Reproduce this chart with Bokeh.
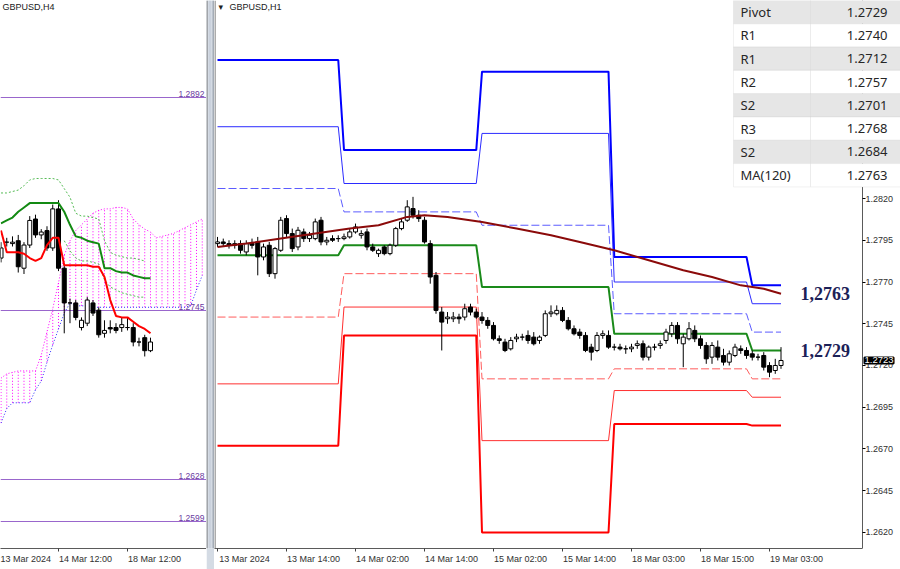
from bokeh.plotting import figure
from bokeh.models import FixedTicker, Label, BoxAnnotation, NumeralTickFormatter
from bokeh.layouts import row
from bokeh.embed import file_html
from bokeh.resources import INLINE

# ================= H1 (right panel) data =================
h1_tick_bars = [0, 12, 24, 36, 48, 60, 72, 84, 96]
h1_tick_labels = ["13 Mar 2024", "13 Mar 14:00", "14 Mar 02:00", "14 Mar 14:00",
                  "15 Mar 02:00", "15 Mar 14:00", "18 Mar 03:00", "18 Mar 15:00",
                  "19 Mar 03:00"]

h1_open = [1.2793,1.2794,1.2793,1.2792,1.2793,1.2788,1.2793,1.2794,1.2785,1.2792,
           1.2775,1.2789,1.2808,1.2799,1.2791,1.2800,1.2796,1.2796,1.2807,1.2794,
           1.2796,1.2796,1.2796,1.2797,1.2800,1.2798,1.2800,1.2791,1.2787,1.2791,
           1.2787,1.2792,1.2802,1.2807,1.2814,1.2810,1.2807,1.2793,1.2774,1.2752,
           1.2748,1.2748,1.2749,1.2749,1.2755,1.2752,1.2749,1.2747,1.2744,1.2736,
           1.2734,1.2730,1.2736,1.2737,1.2738,1.2737,1.2735,1.2738,1.2751,1.2751,
           1.2753,1.2747,1.2742,1.2740,1.2738,1.2731,1.2729,1.2738,1.2738,1.2731,
           1.2731,1.2730,1.2730,1.2732,1.2733,1.2725,1.2731,1.2732,1.2735,1.2739,
           1.2744,1.2733,1.2736,1.2741,1.2736,1.2732,1.2725,1.2731,1.2726,1.2722,
           1.2726,1.2730,1.2729,1.2727,1.2725,1.2726,1.2720,1.2717,1.2720]
h1_high = [1.2797,1.2796,1.2795,1.2795,1.2795,1.2795,1.2796,1.2797,1.2793,1.2794,
           1.2791,1.2809,1.2810,1.2802,1.2803,1.2802,1.2800,1.2808,1.2809,1.2797,
           1.2798,1.2798,1.2799,1.2802,1.2805,1.2801,1.2802,1.2793,1.2790,1.2792,
           1.2793,1.2803,1.2808,1.2819,1.2821,1.2813,1.2809,1.2795,1.2776,1.2755,
           1.2752,1.2752,1.2751,1.2757,1.2757,1.2754,1.2752,1.2749,1.2746,1.2738,
           1.2736,1.2737,1.2739,1.2739,1.2741,1.2740,1.2738,1.2753,1.2756,1.2756,
           1.2755,1.2749,1.2744,1.2742,1.2740,1.2733,1.2740,1.2741,1.2741,1.2733,
           1.2733,1.2732,1.2733,1.2735,1.2735,1.2732,1.2733,1.2735,1.2742,1.2746,
           1.2746,1.2739,1.2746,1.2744,1.2738,1.2734,1.2734,1.2735,1.2730,1.2729,
           1.2733,1.2732,1.2731,1.2729,1.2727,1.2728,1.2722,1.2724,1.2731]
h1_low = [1.2791,1.2791,1.2790,1.2790,1.2787,1.2786,1.2790,1.2774,1.2783,1.2773,
          1.2772,1.2788,1.2797,1.2788,1.2789,1.2794,1.2794,1.2795,1.2792,1.2792,
          1.2794,1.2794,1.2795,1.2796,1.2799,1.2796,1.2789,1.2788,1.2785,1.2786,
          1.2786,1.2791,1.2801,1.2806,1.2808,1.2806,1.2793,1.2769,1.2751,1.2729,
          1.2745,1.2746,1.2745,1.2747,1.2750,1.2748,1.2745,1.2742,1.2735,1.2733,
          1.2728,1.2729,1.2734,1.2735,1.2733,1.2732,1.2733,1.2737,1.2749,1.2750,
          1.2746,1.2741,1.2738,1.2736,1.2728,1.2723,1.2728,1.2736,1.2730,1.2729,
          1.2729,1.2727,1.2728,1.2730,1.2723,1.2723,1.2729,1.2730,1.2733,1.2737,
          1.2733,1.2719,1.2735,1.2734,1.2730,1.2721,1.2721,1.2723,1.2720,1.2720,
          1.2725,1.2727,1.2724,1.2723,1.2723,1.2717,1.2713,1.2715,1.2718]
h1_close = [1.2794,1.2793,1.2792,1.2793,1.2789,1.2793,1.2792,1.2785,1.2791,1.2775,
            1.2790,1.2807,1.2799,1.2790,1.2801,1.2796,1.2798,1.2806,1.2794,1.2795,
            1.2795,1.2796,1.2797,1.2800,1.2803,1.2799,1.2791,1.2789,1.2789,1.2787,
            1.2792,1.2802,1.2806,1.2815,1.2810,1.2808,1.2794,1.2773,1.2753,1.2746,
            1.2749,1.2749,1.2748,1.2754,1.2752,1.2749,1.2747,1.2744,1.2736,1.2735,
            1.2729,1.2735,1.2737,1.2737,1.2735,1.2733,1.2737,1.2751,1.2752,1.2753,
            1.2747,1.2742,1.2739,1.2738,1.2729,1.2728,1.2738,1.2739,1.2731,1.2731,
            1.2730,1.2730,1.2731,1.2733,1.2725,1.2731,1.2731,1.2733,1.2740,1.2744,
            1.2736,1.2737,1.2742,1.2736,1.2732,1.2724,1.2732,1.2725,1.2722,1.2727,
            1.2731,1.2729,1.2726,1.2725,1.2725,1.2719,1.2716,1.2720,1.2723]

# daily classic pivot levels (13, 14, 15, 18, 19 Mar)
day_start = [0, 22, 46, 69, 93]
last_bar = 98
piv_R3 = [1.2903, 1.2849, 1.2896, 1.2785, 1.2768]
piv_R2 = [1.2863, 1.2829, 1.2859, 1.2770, 1.2757]
piv_R1 = [1.2826, 1.2812, 1.2804, 1.2751, 1.2740]
piv_P  = [1.2786, 1.2792, 1.2767, 1.2739, 1.2729]
piv_S1 = [1.2749, 1.2775, 1.2712, 1.2718, 1.2712]
piv_S2 = [1.2709, 1.2755, 1.2675, 1.2705, 1.2701]
piv_S3 = [1.2672, 1.2738, 1.2620, 1.2685, 1.2684]

ma_bar = [0, 5, 11, 17, 23, 28, 33, 36, 40, 46, 52, 58, 63, 69, 75, 81, 86, 91, 95, 98]
ma_val = [1.2791, 1.2793, 1.2796, 1.2799, 1.2802, 1.2804, 1.2809, 1.2810, 1.2809, 1.2806,
          1.2802, 1.2798, 1.2794, 1.2789, 1.2783, 1.2777, 1.2773, 1.2768, 1.2766, 1.2763]

price_ticks = [1.2620, 1.2645, 1.2670, 1.2695, 1.2720, 1.2745, 1.2770, 1.2795, 1.2820]
table_names = ["Pivot", "R1", "R1", "R2", "S2", "R3", "S2", "MA(120)"]
table_values = ["1.2729", "1.2740", "1.2712", "1.2757", "1.2701", "1.2768", "1.2684", "1.2763"]
key_levels = [1.2763, 1.2729]
current_price = 1.2723

# ================= H4 (left panel) data =================
h4_tick_bars = [-2, 10, 22]
h4_tick_labels = ["13 Mar 2024", "14 Mar 12:00", "18 Mar 12:00"]
h4_open = [1.2781,1.2792,1.2791,1.2793,1.2774,1.2790,1.2808,1.2797,1.2800,1.2788,
           1.2815,1.2774,1.2750,1.2750,1.2733,1.2736,1.2750,1.2745,1.2729,1.2733,
           1.2733,1.2733,1.2733,1.2733,1.2723,1.2726,1.2717]
h4_high = [1.2792,1.2795,1.2796,1.2797,1.2792,1.2810,1.2811,1.2801,1.2803,1.2818,
           1.2821,1.2777,1.2753,1.2752,1.2740,1.2754,1.2752,1.2747,1.2738,1.2738,
           1.2736,1.2740,1.2740,1.2736,1.2726,1.2728,1.2726]
h4_low = [1.2778,1.2789,1.2789,1.2771,1.2770,1.2788,1.2795,1.2794,1.2786,1.2786,
          1.2772,1.2729,1.2736,1.2738,1.2731,1.2734,1.2741,1.2726,1.2726,1.2729,
          1.2729,1.2730,1.2731,1.2720,1.2720,1.2713,1.2716]
h4_close = [1.2788,1.2792,1.2792,1.2775,1.2790,1.2807,1.2797,1.2799,1.2788,1.2815,
            1.2774,1.2750,1.2750,1.2740,1.2738,1.2752,1.2743,1.2728,1.2731,1.2732,
            1.2731,1.2735,1.2733,1.2723,1.2723,1.2717,1.2723]
h4_tenkan = [1.2800,1.2785,1.2785,1.2785,1.2784,1.2781,1.2779,1.2781,1.2790,1.2795,
             1.2795,1.2776,1.2776,1.2776,1.2776,1.2776,1.2775,1.2775,1.2768,1.2752,
             1.2741,1.2740,1.2740,1.2737,1.2734,1.2732,1.2729]
h4_kijun = [1.2805,1.2807,1.2809,1.2813,1.2816,1.2819,1.2819,1.2819,1.2819,1.2819,
            1.2819,1.2813,1.2804,1.2796,1.2795,1.2793,1.2792,1.2791,1.2774,1.2774,
            1.2772,1.2771,1.2771,1.2769,1.2768,1.2767,1.2767]
h4_dot1 = [1.2826,1.2826,1.2827,1.2828,1.2831,1.2835,1.2836,1.2836,1.2836,1.2836,
           1.2835,1.2829,1.2823,1.2812,1.2810,1.2810,1.2809,1.2808,1.2793,1.2785,
           1.2783,1.2782,1.2781,1.2781,1.2780,1.2779]
h4_dot2_start = 11
h4_dot2 = [1.2793,1.2786,1.2781,1.2779,1.2779,1.2778,1.2777,1.2766,1.2761,1.2759,
           1.2757,1.2756,1.2755,1.2754,1.2754]
h4_span_top = [1.2698,1.2701,1.2702,1.2703,1.2703,1.2703,1.2703,1.2714,1.2730,1.2746,
               1.2764,1.2783,1.2793,1.2800,1.2804,1.2808,1.2812,1.2814,1.2815,1.2815,
               1.2816,1.2816,1.2815,1.2808,1.2804,1.2801,1.2799,1.2795,1.2796,1.2797,
               1.2798,1.2800,1.2802,1.2804,1.2806,1.2808]
h4_span_bot = [1.2667,1.2677,1.2681,1.2681,1.2681,1.2681,1.2690,1.2696,1.2709,1.2721,
               1.2732,1.2743,1.2750,1.2748,1.2748,1.2748,1.2747,1.2747,1.2747,1.2747,
               1.2747,1.2747,1.2747,1.2747,1.2747,1.2747,1.2747,1.2747,1.2747,1.2747,
               1.2747,1.2747,1.2747,1.2748,1.2759,1.2769]
h4_levels = [1.2892, 1.2745, 1.2628, 1.2599]

# ================= styling =================
AXIS_FONT = "Liberation Sans"
TXT = "#303030"
H = 569
BOTTOM = 21
LABEL_SHIFT = 4.7   # bars: MT4 time labels start at their tick
PRICE_AXIS_AT = 112.17  # bar position of the price scale border


def draw_candles(fig, xs, o, h, l, c, width):
    top = [max(a, b) for a, b in zip(o, c)]
    bot = [min(a, b) for a, b in zip(o, c)]
    col = ["white" if cc >= oo else "black" for oo, cc in zip(o, c)]
    fig.segment(x0=xs, y0=l, x1=xs, y1=h, line_color="black", line_width=1)
    fig.vbar(x=xs, width=width, top=top, bottom=bot, fill_color=col,
             line_color="black", line_width=1)


def style_xaxis(fig, bars, labels):
    pos = [round(b + LABEL_SHIFT, 2) for b in bars]
    fig.xaxis.ticker = FixedTicker(ticks=pos, minor_ticks=bars)
    fig.xaxis.major_label_overrides = {p_: t for p_, t in zip(pos, labels)}
    fig.xaxis.major_tick_out = 0
    fig.xaxis.major_tick_in = 0
    fig.xaxis.minor_tick_out = 3
    fig.xaxis.minor_tick_in = 0
    fig.xaxis.minor_tick_line_color = "#404040"
    fig.xaxis.axis_line_color = "#5a5a5a"
    fig.xaxis.major_label_standoff = 2
    fig.xaxis.major_label_text_font = AXIS_FONT
    fig.xaxis.major_label_text_font_size = "9px"
    fig.xaxis.major_label_text_color = TXT


# ---------------- left H4 figure ----------------
q = figure(x_range=(-0.087, 35.74), y_range=(1.25803, 1.29590),
           width=206, height=H, min_border=0, min_border_bottom=BOTTOM,
           output_backend="svg", toolbar_location=None, y_axis_location=None)
q.grid.visible = False
q.outline_line_color = None
style_xaxis(q, h4_tick_bars, h4_tick_labels)

span_x = list(range(len(h4_span_top)))
q.segment(x0=span_x, y0=h4_span_bot, x1=span_x, y1=h4_span_top,
          line_color="#ff00ff", line_width=1, line_dash="1 2")
q.line(span_x, h4_span_top, line_color="#ff00ff", line_width=1, line_dash="1 2")
q.line(span_x, h4_span_bot, line_color="#2a2aff", line_width=1, line_dash="1 2")

for lv in h4_levels:
    q.hspan(y=[lv], line_color="#9966cc", line_width=1)
    q.add_layout(Label(x=204, y=lv, x_units="canvas", y_units="data",
                       text=f"{lv:.4f}", text_align="right", text_baseline="bottom",
                       text_font=AXIS_FONT, text_font_size="8.5px", text_color="#6a3aa0"))

q.line(list(range(len(h4_dot1))), h4_dot1, line_color="#55bb55", line_width=1, line_dash="2 2")
q.line(list(range(h4_dot2_start, h4_dot2_start + len(h4_dot2))), h4_dot2,
       line_color="#55bb55", line_width=1, line_dash="2 2")

h4_x = list(range(len(h4_open)))
draw_candles(q, h4_x, h4_open, h4_high, h4_low, h4_close, 0.7)
q.line(h4_x, h4_kijun, line_color="#138a13", line_width=2)
q.line(h4_x, h4_tenkan, line_color="#ff0000", line_width=2)

q.add_layout(Label(x=2, y=1, x_units="canvas", y_units="canvas", text="GBPUSD,H4",
                   text_baseline="top", text_font=AXIS_FONT, text_font_size="9px",
                   text_color="#202020"))

# ---------------- separator between the two charts ----------------
sep = figure(width=8, height=H, x_range=(0, 8), y_range=(0, H), min_border=0,
             toolbar_location=None, output_backend="svg", x_axis_location=None,
             y_axis_location=None, background_fill_color="#d4dbe4",
             border_fill_color="#d4dbe4")
sep.grid.visible = False
sep.outline_line_color = None
sep.add_layout(BoxAnnotation(left=0, right=1, fill_color="#707070", fill_alpha=1, line_color=None))
sep.add_layout(BoxAnnotation(left=3, right=4, fill_color="#bfc8d3", fill_alpha=1, line_color=None))
sep.add_layout(BoxAnnotation(left=6, right=8, fill_color="#a4acb6", fill_alpha=1, line_color=None))

# ---------------- right H1 figure ----------------
p = figure(x_range=(-0.522, 118.78), y_range=(1.26104, 1.29386),
           width=686, height=H, min_border=0, min_border_bottom=BOTTOM,
           output_backend="svg", toolbar_location=None, y_axis_location="right")
p.grid.visible = False
p.outline_line_color = None
style_xaxis(p, h1_tick_bars, h1_tick_labels)
p.xaxis.bounds = (-0.522, PRICE_AXIS_AT)
p.yaxis.fixed_location = PRICE_AXIS_AT
p.yaxis.ticker = FixedTicker(ticks=price_ticks)
p.yaxis.formatter = NumeralTickFormatter(format="0.0000")
p.yaxis.major_tick_out = 3
p.yaxis.major_tick_in = 0
p.yaxis.minor_tick_out = 0
p.yaxis.minor_tick_in = 0
p.yaxis.axis_line_color = "#5a5a5a"
p.yaxis.major_label_standoff = 0
p.yaxis.major_label_text_font = AXIS_FONT
p.yaxis.major_label_text_font_size = "9px"
p.yaxis.major_label_text_color = TXT

# left border of the H1 chart
p.add_layout(BoxAnnotation(left=0, right=1, top=0, bottom=H - BOTTOM, left_units="canvas",
                           right_units="canvas", top_units="canvas", bottom_units="canvas",
                           fill_color="#5a5a5a", fill_alpha=1, line_color=None))

day_end = [d - 1 for d in day_start[1:]] + [last_bar]


def step_xy(levels):
    xs, ys = [], []
    for s, e, v in zip(day_start, day_end, levels):
        xs += [s, e]
        ys += [v, v]
    return xs, ys


pivot_styles = [
    (piv_R3, "#0000ff", 2, "solid"),
    (piv_R2, "#2b2bff", 1, "solid"),
    (piv_R1, "#5c5cff", 1, "8 3"),
    (piv_P, "#1a8a1a", 2, "solid"),
    (piv_S1, "#ff5c5c", 1, "8 3"),
    (piv_S2, "#ff3030", 1, "solid"),
    (piv_S3, "#ff0000", 2, "solid"),
]
for lv, col, w, dash in pivot_styles:
    xs, ys = step_xy(lv)
    p.line(xs, ys, line_color=col, line_width=w, line_dash=dash)

h1_x = list(range(len(h1_open)))
draw_candles(p, h1_x, h1_open, h1_high, h1_low, h1_close, 0.7)
p.line(ma_bar, ma_val, line_color="#8b0a0a", line_width=2)

for lv in key_levels:
    p.add_layout(Label(x=586, y=lv, x_units="canvas", y_units="data",
                       text=f"{lv:.4f}".replace(".", ","), text_baseline="middle",
                       text_font="Liberation Serif", text_font_style="bold",
                       text_font_size="18px", text_color="#1c2157"))

p.add_layout(Label(x=650, y=current_price, x_units="canvas", y_units="data",
                   text=f"{current_price:.4f}", text_baseline="middle",
                   text_font=AXIS_FONT, text_font_size="9.5px", text_color="white",
                   background_fill_color="black", background_fill_alpha=1,
                   border_line_color="black", border_line_width=2))

p.add_layout(Label(x=4, y=1, x_units="canvas", y_units="canvas", text="\u25be",
                   text_baseline="top", text_font="DejaVu Sans", text_font_size="9px",
                   text_color="#202020"))
p.add_layout(Label(x=15, y=1, x_units="canvas", y_units="canvas", text="GBPUSD,H1",
                   text_baseline="top", text_font=AXIS_FONT, text_font_size="9px",
                   text_color="#202020"))

# data table (top right)
tab_left, tab_mid, tab_right = 519, 596, 687
row_h = 23.3
for r, (name, val) in enumerate(zip(table_names, table_values)):
    bg = "#e6e6e6" if r % 2 == 0 else "#ffffff"
    top = r * row_h
    bot = (r + 1) * row_h
    for l_, r_ in [(tab_left, tab_mid), (tab_mid, tab_right)]:
        p.add_layout(BoxAnnotation(left=l_, right=r_, top=top, bottom=bot,
                                   left_units="canvas", right_units="canvas",
                                   top_units="canvas", bottom_units="canvas",
                                   fill_color=bg, fill_alpha=1,
                                   line_color="#d2d2d2", line_width=1))
    p.add_layout(Label(x=tab_left + 7, y=(top + bot) / 2, x_units="canvas", y_units="canvas",
                       text=name, text_baseline="middle", text_font="Noto Sans",
                       text_font_size="13px", text_color="#262626"))
    p.add_layout(Label(x=673, y=(top + bot) / 2, x_units="canvas", y_units="canvas",
                       text=val, text_align="right", text_baseline="middle",
                       text_font="Noto Sans", text_font_size="13px", text_color="#262626"))

layout = row(q, sep, p)
open("out.html", "w").write(file_html(layout, INLINE))
